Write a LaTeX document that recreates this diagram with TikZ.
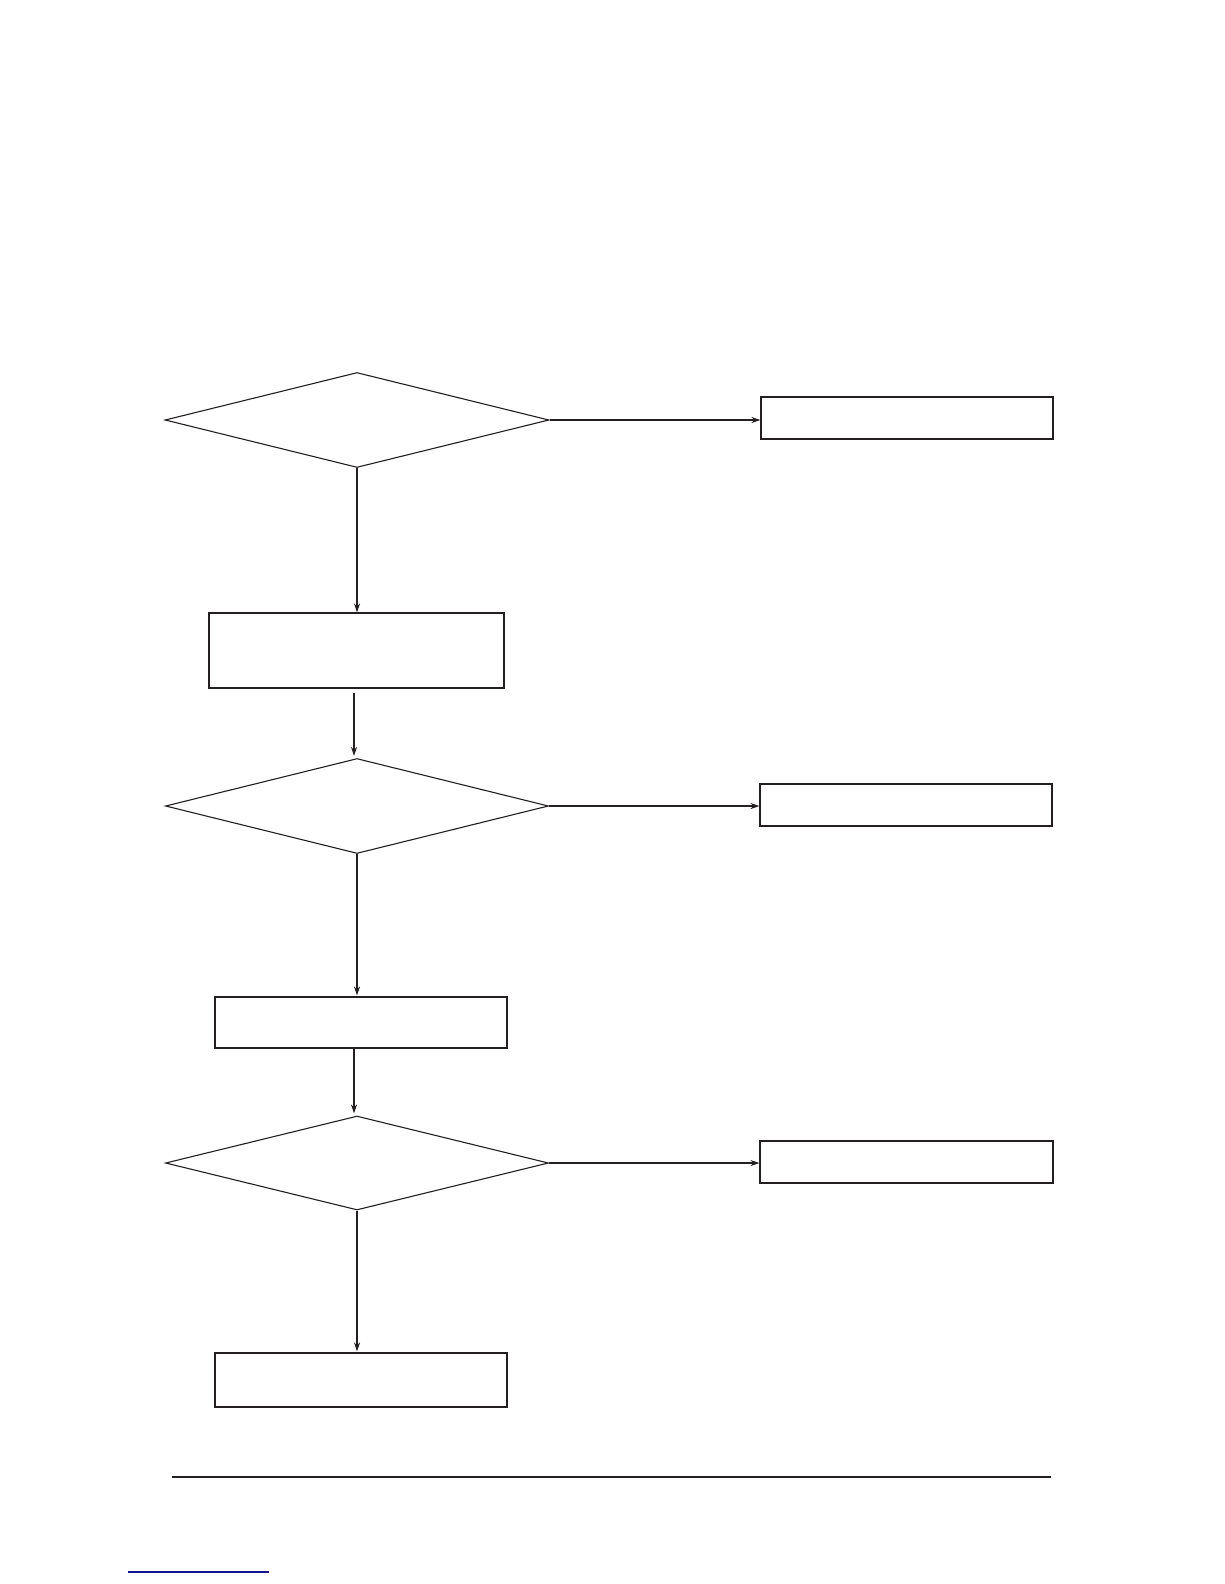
\documentclass[tikz,border=0pt]{standalone}
\usetikzlibrary{shapes.geometric,arrows.meta}
\definecolor{ink}{RGB}{35,31,32}
\definecolor{linkblue}{RGB}{20,20,140}
\begin{document}
\begin{tikzpicture}[x=1pt,y=-1pt,
  box/.style={draw=ink,line width=1.1pt,inner sep=0pt,rectangle},
  dec/.style={draw=ink,line width=1.1pt,inner sep=0pt,diamond},
  arr/.style={draw=ink,line width=1.1pt,-{Stealth[length=9pt,width=6pt]}}]
\useasboundingbox[fill=white] (0,0) rectangle (1224,1584);
% decisions
\node[dec,minimum width=384pt,minimum height=95pt] (d1) at (357,420) {};
\node[dec,minimum width=383pt,minimum height=95pt] (d2) at (357,806) {};
\node[dec,minimum width=383pt,minimum height=94pt] (d3) at (357,1163) {};
% right boxes
\node[box,minimum width=292pt,minimum height=42pt] (r1) at (907,418) {};
\node[box,minimum width=292pt,minimum height=42pt] (r2) at (906,805) {};
\node[box,minimum width=293pt,minimum height=42pt] (r3) at (906.5,1162) {};
% left boxes
\node[box,minimum width=295pt,minimum height=75pt] (b1) at (356.5,650.5) {};
\node[box,minimum width=292pt,minimum height=51pt] (b2) at (361,1022.5) {};
\node[box,minimum width=292pt,minimum height=54pt] (b3) at (361,1380) {};
% horizontal arrows
\draw[arr] (d1.east) -- (d1.east -| r1.west);
\draw[arr] (d2.east) -- (d2.east -| r2.west);
\draw[arr] (d3.east) -- (d3.east -| r3.west);
% vertical arrows
\draw[arr] (d1.south) -- (d1.south |- b1.north);
\draw[arr,shorten <=4pt,shorten >=2pt] (b1.south -| d2.north) ++(-3,0) coordinate (c1) -- (c1 |- d2.north);
\draw[arr,shorten >=1pt] (d2.south) -- (d2.south |- b2.north);
\draw[arr,shorten >=2pt] (b2.south -| d3.north) ++(-3,0) coordinate (c2) -- (c2 |- d3.north);
\draw[arr,shorten >=1pt] (d3.south) -- (d3.south |- b3.north);
% footer rule
\coordinate (fl) at (172,1477);
\coordinate (fr) at (1051,1477);
\draw[ink,line width=2.4pt] (fl) -- (fr);
\coordinate (bl) at (128,1572);
\coordinate (br) at (269,1572);
\draw[linkblue,line width=1.4pt] (bl) -- (br);
\end{tikzpicture}
\end{document}
